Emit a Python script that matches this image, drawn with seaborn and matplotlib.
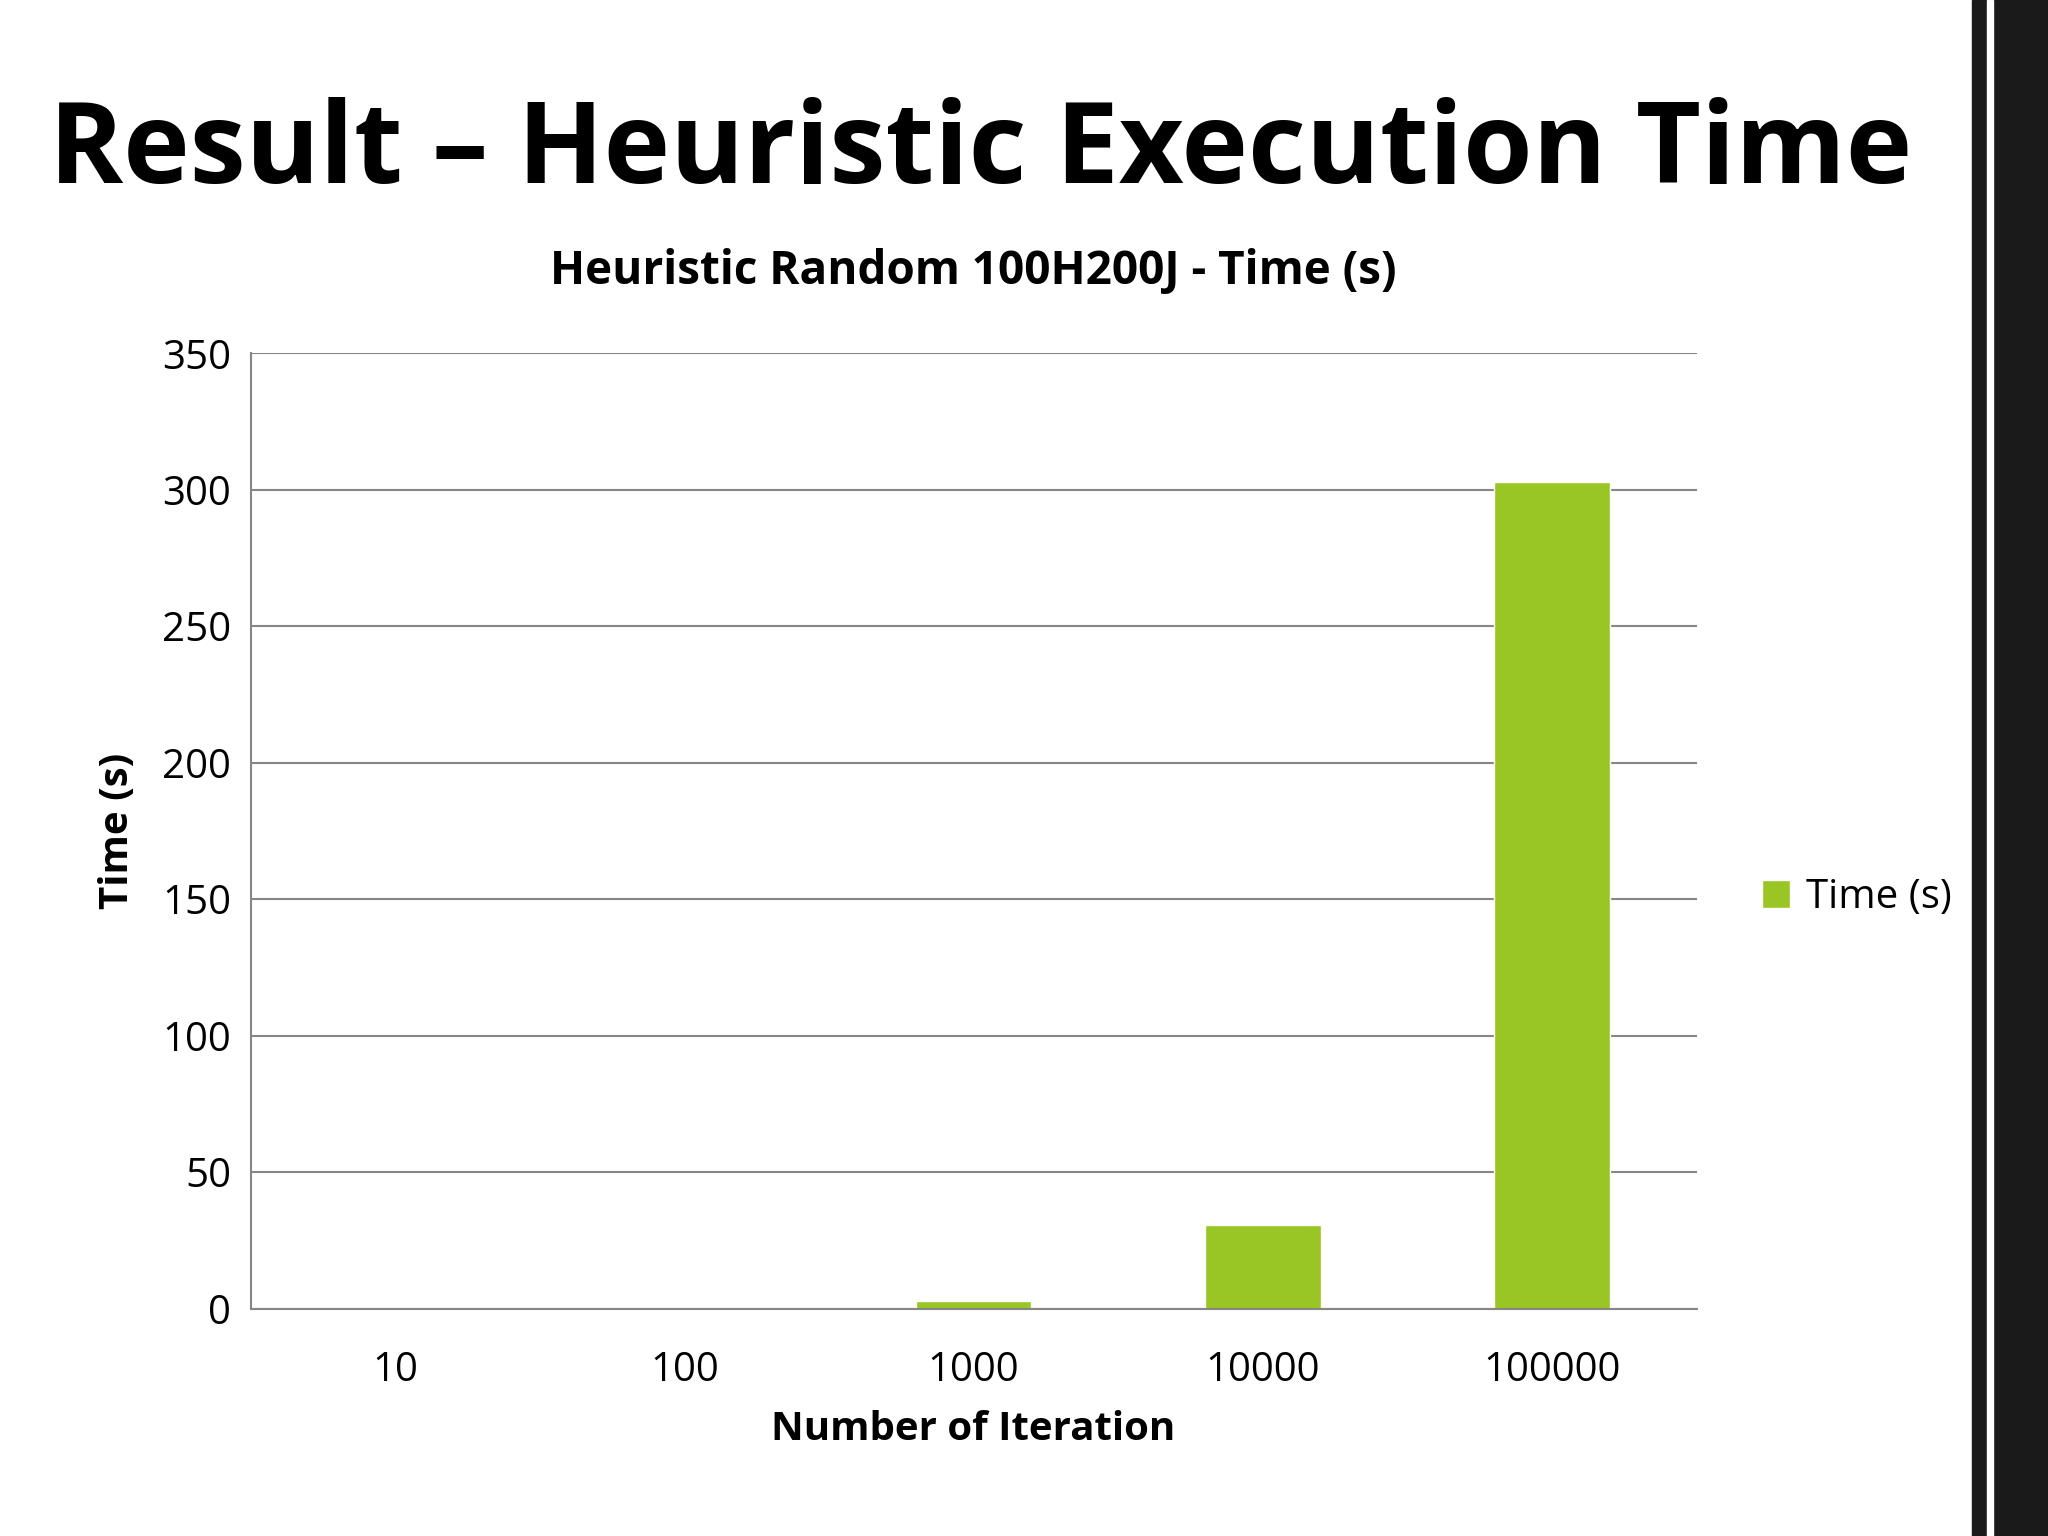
import pandas as pd
import seaborn as sns
import matplotlib.pyplot as plt
from matplotlib.patches import Rectangle

iterations = ["10", "100", "1000", "10000", "100000"]
times = [0.1, 0.3, 2.9, 30.8, 302.8]

df = pd.DataFrame({"Number of Iteration": iterations, "Time (s)": times})

sns.set_style("white")
plt.rcParams['font.family'] = ['Open Sans', 'DejaVu Sans']
plt.rcParams['text.color'] = 'black'
plt.rcParams['axes.labelcolor'] = 'black'
plt.rcParams['xtick.color'] = 'black'
plt.rcParams['ytick.color'] = 'black'

fig = plt.figure(figsize=(20.48, 15.36), dpi=100)
ax = fig.add_axes([0.1224, 0.148, 0.706, 0.622])

sns.barplot(data=df, x="Number of Iteration", y="Time (s)", color="#99C624",
            width=0.4, saturation=1, label="Time (s)", ax=ax)

ax.set_ylim(0, 350)
ax.set_yticks(range(0, 351, 50))
ax.set_xlim(-0.5, 4.5)
ax.yaxis.grid(True, color="#868686", linewidth=1.5)
ax.set_axisbelow(True)
for s in ["top", "right"]:
    ax.spines[s].set_visible(False)
ax.spines["left"].set_color("#868686")
ax.spines["bottom"].set_color("#868686")
ax.spines["left"].set_linewidth(1.5)
ax.spines["bottom"].set_linewidth(1.5)
# ticks between categories
ax.set_xticks([i - 0.5 for i in range(6)], minor=True)
ax.tick_params(axis="x", which="minor", length=14, width=1.5, color="#868686")
ax.tick_params(axis="x", which="major", length=0, labelsize=29, pad=30)
ax.tick_params(axis="y", length=0, labelsize=29, pad=14)

ax.set_xlabel("Number of Iteration", fontsize=29, fontweight="bold", labelpad=14)
ax.set_ylabel("Time (s)", fontsize=29, fontweight="bold", labelpad=18)
ax.set_title("Heuristic Random 100H200J - Time (s)", fontsize=33, fontweight="bold", pad=50)

ax.legend(loc="center left", bbox_to_anchor=(1.02, 0.43), frameon=False,
          fontsize=29, handlelength=0.7, handleheight=0.7, handletextpad=0.4)

fig.text(0.024, 0.90, "Result \u2013 Heuristic Execution Time", fontsize=81,
         fontweight="bold", va="center", ha="left")

# decorative dark strip at right edge
fig.patches.append(Rectangle((0.963, 0), 0.037, 1, transform=fig.transFigure,
                             color="#1a1a1a", zorder=0))
fig.patches.append(Rectangle((0.970, 0), 0.003, 1, transform=fig.transFigure,
                             color="white", zorder=1))

fig.savefig("out.png", dpi=100)
